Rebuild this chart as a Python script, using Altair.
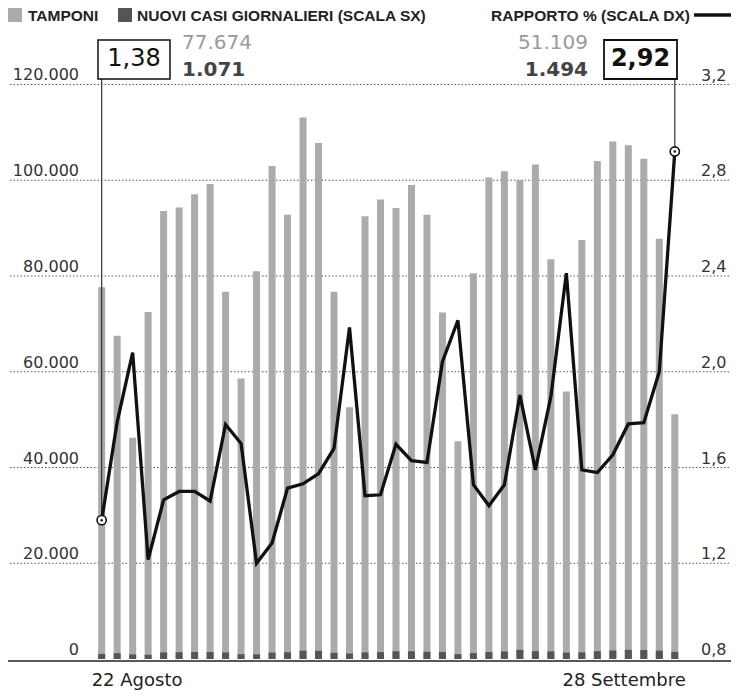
import altair as alt
import pandas as pd

# ---- data ----
tamponi = [77674, 67500, 46200, 72500, 93600, 94300, 97100, 99200, 76700, 58600,
           81000, 103000, 92800, 113100, 107800, 76700, 52600, 92500, 96000, 94200,
           99000, 92800, 72400, 45500, 80600, 100600, 101900, 100000, 103300, 83500,
           55900, 87500, 104000, 108100, 107300, 104500, 87800, 51109]
casi = [1071, 1208, 961, 881, 1371, 1415, 1457, 1448, 1365, 996,
        972, 1324, 1405, 1733, 1697, 1289, 1149, 1371, 1427, 1599,
        1613, 1504, 1478, 1008, 1232, 1449, 1557, 1903, 1642, 1583,
        1348, 1391, 1642, 1787, 1912, 1867, 1756, 1494]
rapporto = [1.38, 1.79, 2.08, 1.215, 1.465, 1.50, 1.50, 1.46, 1.78, 1.70,
            1.20, 1.285, 1.514, 1.532, 1.574, 1.68, 2.185, 1.482, 1.486, 1.697,
            1.629, 1.621, 2.042, 2.215, 1.528, 1.44, 1.528, 1.903, 1.59, 1.896,
            2.412, 1.59, 1.579, 1.653, 1.782, 1.787, 2.0, 2.92]
date_labels = ["22 Agosto", "28 Settembre"]
left_ticks = [0, 20000, 40000, 60000, 80000, 100000, 120000]
left_tick_labels = ["0", "20.000", "40.000", "60.000", "80.000", "100.000", "120.000"]
right_ticks = [0.8, 1.2, 1.6, 2.0, 2.4, 2.8, 3.2]
right_tick_labels = ["0,8", "1,2", "1,6", "2,0", "2,4", "2,8", "3,2"]
legend_labels = ["TAMPONI", "NUOVI CASI GIORNALIERI (SCALA SX)", "RAPPORTO % (SCALA DX)"]

n = len(tamponi)
df = pd.DataFrame({"i": list(range(n)), "tamponi": tamponi, "casi": casi, "rapporto": rapporto})
first = df.iloc[[0]]
last = df.iloc[[n - 1]]

def it(v):
    return f"{v:,}".replace(",", ".")

def pct(v):
    return f"{v:.2f}".replace(".", ",")

W, H = 736, 697
xs = alt.Scale(domain=[-6.241, 40.629], nice=False, zero=False)
ysl = alt.Scale(domain=[-7937, 137650], nice=False, zero=False)
ysr = alt.Scale(domain=[0.6413, 3.553], nice=False, zero=False)
X = alt.X("i:Q", scale=xs, axis=None)

AX_FONT = "DejaVu Sans"
LG_FONT = "Liberation Sans"

grid_df = pd.DataFrame({"v": left_ticks[1:]})
grid = alt.Chart(grid_df).mark_rule(color="#555", strokeWidth=1, strokeDash=[1.5, 2]).encode(
    x=alt.value(10), x2=alt.value(730), y=alt.Y("v:Q", scale=ysl, axis=None))

base_df = pd.DataFrame({"v": [left_ticks[0]]})
baseline = alt.Chart(base_df).mark_rule(color="#222", strokeWidth=1.5, yOffset=2).encode(
    x=alt.value(8), x2=alt.value(731), y=alt.Y("v:Q", scale=ysl, axis=None))

lt_df = pd.DataFrame({"v": left_ticks, "t": left_tick_labels})
left_labels = alt.Chart(lt_df).mark_text(font=AX_FONT, fontSize=16, color="#333", align="right",
                                         baseline="alphabetic", dy=-4).encode(
    x=alt.value(79), y=alt.Y("v:Q", scale=ysl, axis=None), text="t:N")

rt_df = pd.DataFrame({"v": right_ticks, "t": right_tick_labels})
right_labels = alt.Chart(rt_df).mark_text(font=AX_FONT, fontSize=16, color="#333", align="left",
                                          baseline="alphabetic", dy=-4).encode(
    x=alt.value(701), y=alt.Y("v:Q", scale=ysr, axis=None), text="t:N")

bars = alt.Chart(df).mark_bar(size=7, color="#ababab").encode(
    x=X, y=alt.Y("tamponi:Q", scale=ysl, axis=None), y2=alt.datum(0))
bars_casi = alt.Chart(df).mark_bar(size=7, color="#555").encode(
    x=X, y=alt.Y("casi:Q", scale=ysl, axis=None), y2=alt.datum(0))

line = alt.Chart(df).mark_line(color="#111", strokeWidth=3.3, strokeJoin="miter").encode(
    x=X, y=alt.Y("rapporto:Q", scale=ysr, axis=None))

ann = pd.concat([first, last])
vlines = alt.Chart(ann).mark_rule(color="#333", strokeWidth=1.2).encode(
    x=X, y=alt.Y("rapporto:Q", scale=ysr, axis=None), y2=alt.value(79))
circ = alt.Chart(ann).mark_circle(fill="white", stroke="#111", strokeWidth=1.6, size=85, opacity=1).encode(
    x=X, y=alt.Y("rapporto:Q", scale=ysr, axis=None))
dot = alt.Chart(ann).mark_circle(color="#111", size=6, opacity=1).encode(
    x=X, y=alt.Y("rapporto:Q", scale=ysr, axis=None))

one = pd.DataFrame({"k": [0]})

def rect(x1, x2, y1, y2, **kw):
    return alt.Chart(one).mark_rect(**kw).encode(
        x=alt.value(x1), x2=alt.value(x2), y=alt.value(y1), y2=alt.value(y2))

def txt(s, x, y, **kw):
    return alt.Chart(one).mark_text(**kw).encode(x=alt.value(x), y=alt.value(y), text=alt.value(s))

box1 = rect(98, 170, 40, 79, fill="white", stroke="#111", strokeWidth=1.5)
box2 = rect(604, 677, 40, 79, fill="white", stroke="#111", strokeWidth=1.8)
box1_t = txt(pct(rapporto[0]), 134, 59, font=AX_FONT, fontSize=24, color="#111", align="center")
box2_t = txt(pct(rapporto[-1]), 640.5, 59, font=AX_FONT, fontSize=24, fontWeight="bold", color="#111", align="center")
t1 = txt(it(tamponi[0]), 182, 43, font=AX_FONT, fontSize=20, color="#9a9a9a", align="left")
c1 = txt(it(casi[0]), 182, 70, font=AX_FONT, fontSize=20, fontWeight="bold", color="#444", align="left")
t2 = txt(it(tamponi[-1]), 588, 43, font=AX_FONT, fontSize=20, color="#9a9a9a", align="right")
c2 = txt(it(casi[-1]), 588, 70, font=AX_FONT, fontSize=20, fontWeight="bold", color="#444", align="right")

lg1 = rect(8, 22, 8, 22, fill="#ababab")
lg2 = rect(118, 132, 8, 22, fill="#555")
lg1_t = txt(legend_labels[0], 28, 15.5, font=LG_FONT, fontSize=15.5, fontWeight="bold", color="#222", align="left")
lg2_t = txt(legend_labels[1], 137, 15.5, font=LG_FONT, fontSize=15.5, fontWeight="bold", color="#222", align="left")
lg3_t = txt(legend_labels[2], 690, 15.5, font=LG_FONT, fontSize=15.5, fontWeight="bold", color="#222", align="right")
lg3_l = alt.Chart(one).mark_rule(color="#111", strokeWidth=3.5).encode(
    x=alt.value(694), x2=alt.value(731), y=alt.value(15))

d_first = pd.DataFrame({"i": [0], "t": [date_labels[0]]})
d_last = pd.DataFrame({"i": [n - 1], "t": [date_labels[1]]})
date1 = alt.Chart(d_first).mark_text(font=AX_FONT, fontSize=18, color="#222", align="left", dx=-10).encode(
    x=X, y=alt.value(681), text="t:N")
date2 = alt.Chart(d_last).mark_text(font=AX_FONT, fontSize=18, color="#222", align="right", dx=11).encode(
    x=X, y=alt.value(681), text="t:N")

chart = alt.layer(
    grid, bars, bars_casi, baseline, left_labels, right_labels,
    vlines, line, circ, dot,
    box1, box2, box1_t, box2_t, t1, c1, t2, c2,
    lg1, lg2, lg1_t, lg2_t, lg3_t, lg3_l, date1, date2,
).resolve_scale(y="independent").properties(
    width=W, height=H, autosize=alt.AutoSizeParams(type="none"), padding=0,
    background="white",
).configure_view(stroke=None)

chart.save("out.html", embed_options={"renderer": "svg", "actions": False})
